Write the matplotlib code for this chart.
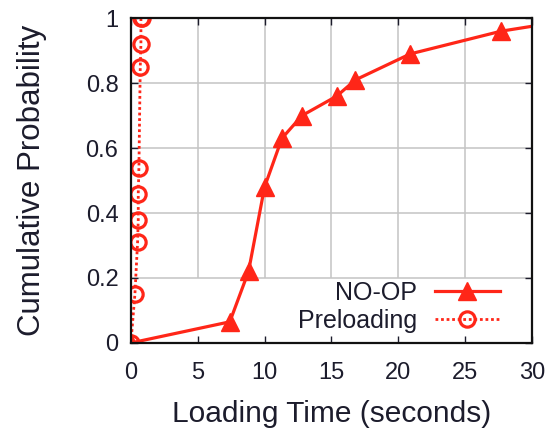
import matplotlib.pyplot as plt

plt.rcParams['font.family'] = ['Liberation Sans', 'DejaVu Sans']

# NO-OP loading times (seconds) and cumulative probability
noop_x = [0, 7.4, 8.8, 10.0, 11.3, 12.8, 15.4, 16.8, 20.9, 27.7, 30]
noop_y = [0, 0.065, 0.22, 0.48, 0.63, 0.70, 0.76, 0.81, 0.89, 0.96, 0.975]
noop_marked = [0, 1, 2, 3, 4, 5, 6, 7, 8, 9]

# Preloading
pre_x = [0, 0.3, 0.5, 0.55, 0.55, 0.6, 0.7, 0.75, 0.75, 0.8]
pre_y = [0, 0.15, 0.31, 0.38, 0.46, 0.54, 0.85, 0.92, 1.0, 1.0]

xticks = [0, 5, 10, 15, 20, 25, 30]
yticks = [0, 0.2, 0.4, 0.6, 0.8, 1]

fig = plt.figure(figsize=(5.5, 4.33), dpi=100)
ax = fig.add_axes([0.238, 0.208, 0.729, 0.75])

red = "#ff2618"
txt = "#1c1c2c"

# grid is blanked under the key, so only draw it above y=0.2
ax.vlines(xticks[1:-1], 0.2, 1, color="#c4c4c4", linewidth=1.1, zorder=0)
ax.hlines(yticks[1:-1], 0, 30, color="#c4c4c4", linewidth=1.1, zorder=0)

ax.plot(noop_x, noop_y, color=red, linewidth=2.3, marker="^", markersize=13.5,
        markevery=noop_marked, label="NO-OP")
ax.plot(pre_x, pre_y, color=red, linewidth=2, linestyle=(0, (1, 1)), marker="o",
        markersize=11, markerfacecolor="none", markeredgewidth=2.3, label="Preloading")

ax.set_xlim(0, 30)
ax.set_ylim(0, 1)
ax.set_xticks(xticks)
ax.set_yticks(yticks)
ax.set_yticklabels(["0", "0.2", "0.4", "0.6", "0.8", "1"])
ax.tick_params(direction="in", top=True, right=True, labelsize=17, length=5,
               width=1, colors=txt)
ax.tick_params(axis="x", pad=14)
ax.tick_params(axis="y", pad=9)
for s in ax.spines.values():
    s.set_linewidth(1.6)
    s.set_color("#111111")

ax.set_xlabel("Loading Time (seconds)", fontsize=21.5, color=txt, labelpad=11)
ax.set_ylabel("Cumulative Probability", fontsize=22.5, color=txt, labelpad=28)

leg = ax.legend(loc="lower right", bbox_to_anchor=(0.945, 0.0), markerfirst=False,
                frameon=False, fontsize=18, handlelength=2.6, borderaxespad=0,
                labelspacing=0.15, handletextpad=0.7)
for t in leg.get_texts():
    t.set_ha("right")
    t.set_color(txt)

fig.savefig("out.png")
